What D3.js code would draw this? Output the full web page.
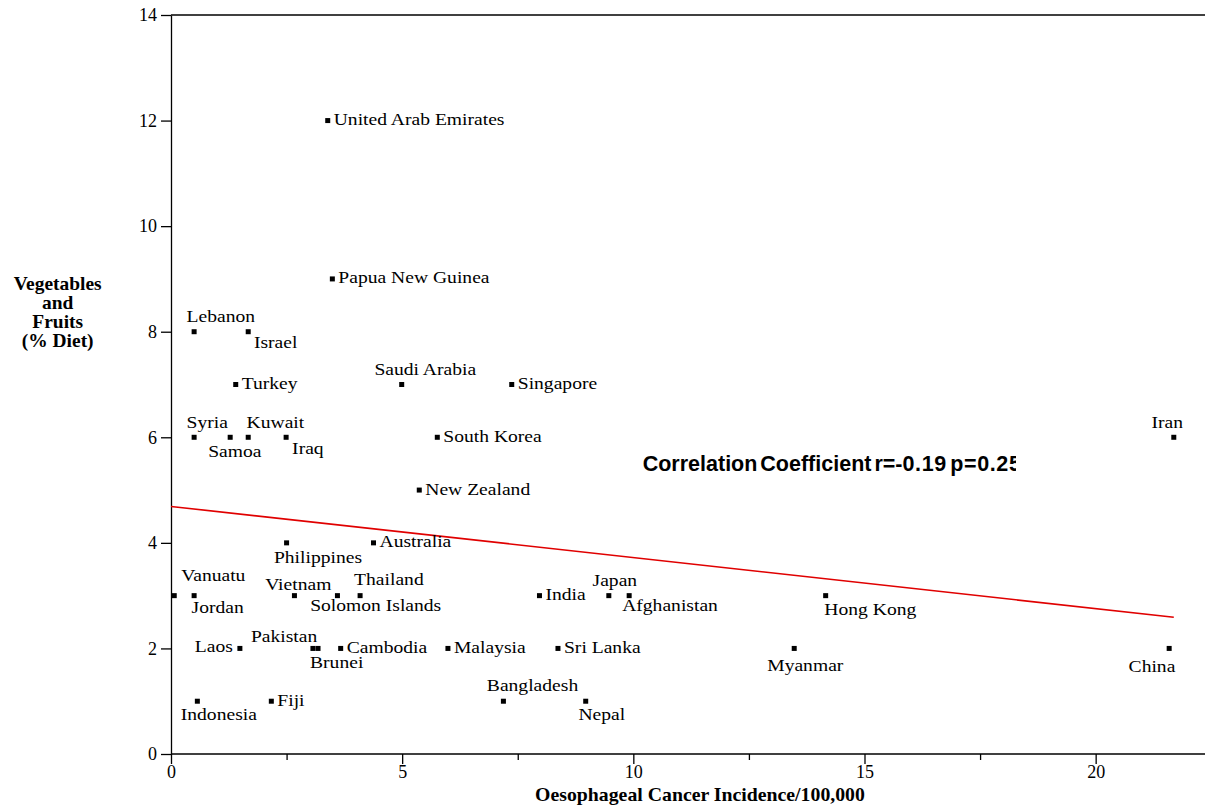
<!DOCTYPE html>
<html>
<head>
<meta charset="utf-8">
<script src="https://cdn.jsdelivr.net/npm/d3@7"></script>
<style>
  html, body { margin: 0; padding: 0; background: #fff; }
  svg { display: block; }
</style>
</head>
<body>
<svg id="chart" width="1205" height="805"></svg>
<script>
// ---- data ----
const countries = ["United Arab Emirates","Papua New Guinea","Lebanon","Israel","Turkey","Saudi Arabia","Singapore",
  "Syria","Samoa","Kuwait","Iraq","South Korea","Iran","New Zealand","Australia","Philippines",
  "Vanuatu","Jordan","Vietnam","Solomon Islands","Thailand","India","Japan","Afghanistan","Hong Kong",
  "Laos","Pakistan","Brunei","Cambodia","Malaysia","Sri Lanka","Myanmar","China",
  "Indonesia","Fiji","Bangladesh","Nepal"];
const incidence = [3.39,3.49,0.5,1.67,1.4,4.99,7.37,
  0.5,1.28,1.67,2.49,5.76,21.69,5.37,4.38,2.5,
  0.07,0.5,2.67,3.6,4.09,7.97,9.47,9.91,14.16,
  1.49,3.07,3.18,3.67,5.99,8.37,13.48,21.59,
  0.57,2.17,7.19,8.97];
const vegFruit = [12,9,8,8,7,7,7,
  6,6,6,6,6,6,5,4,4,
  3,3,3,3,3,3,3,3,3,
  2,2,2,2,2,2,2,2,
  1,1,1,1];
const regX = [0, 21.69];
const regY = [4.69, 2.59];
const xTicks = [0,5,10,15,20];
const xMinorTicks = [2.5,7.5,12.5,17.5];
const yTicks = [0,2,4,6,8,10,12,14];
const xTitle = "Oesophageal Cancer Incidence/100,000";
const yTitle = ["Vegetables","and","Fruits","(% Diet)"];
const annotationParts = ["Correlation Coefficient r=-", "0.19 p=0.25"];

// ---- label layout (anchor, dx, dy relative to marker) ----
const R = ["start", 6, 4.5];
const labelLayout = {
  "United Arab Emirates": R, "Papua New Guinea": R,
  "Lebanon": ["start",-7.6,-10], "Israel": ["start",5.7,16], "Turkey": R,
  "Saudi Arabia": ["start",-27.3,-9.5], "Singapore": R,
  "Syria": ["start",-7.6,-9], "Samoa": ["start",-22,20], "Kuwait": ["start",-1.6,-9],
  "Iraq": ["start",6,17], "South Korea": R, "Iran": ["start",-22.3,-9],
  "New Zealand": R, "Australia": R, "Philippines": ["start",-12.7,20],
  "Vanuatu": ["start",7,-14.6], "Jordan": ["start",-2.6,17], "Vietnam": ["start",-29.3,-5.6],
  "Solomon Islands": ["start",-27.3,15.4], "Thailand": ["start",-6,-10.6], "India": R,
  "Japan": ["start",-16.3,-10], "Afghanistan": ["start",-7,15.4], "Hong Kong": ["start",-1.3,19.4],
  "Laos": ["end",-7,4], "Pakistan": ["start",-62,-6], "Brunei": ["start",-8,20],
  "Cambodia": R, "Malaysia": R, "Sri Lanka": R, "Myanmar": ["start",-27,23],
  "China": ["start",-40.6,24], "Indonesia": ["start",-16.6,18.7], "Fiji": R,
  "Bangladesh": ["start",-16.6,-10.6], "Nepal": ["start",-7.3,19]
};

const svg = d3.select("#chart");
const serif = "'Liberation Serif','Times New Roman',Times,serif";

const x = d3.scaleLinear().domain([0, 22.365]).range([171, 1205]);
const y = d3.scaleLinear().domain([0, 14]).range([754, 15]);

// top frame line
svg.append("line").attr("x1", 171).attr("x2", 1205).attr("y1", 15).attr("y2", 15)
  .attr("stroke", "#000").attr("stroke-width", 1.3);

// x axis
const xAxis = svg.append("g").attr("transform", "translate(0,754)")
  .call(d3.axisBottom(x).tickValues(xTicks).tickSize(10).tickSizeOuter(0).tickFormat(d3.format("d")));
const xMinor = svg.append("g").attr("transform", "translate(0,754)")
  .call(d3.axisBottom(x).tickValues(xMinorTicks).tickSize(6).tickSizeOuter(0).tickFormat(""));
xMinor.select(".domain").remove();

// y axis
const yAxis = svg.append("g").attr("transform", "translate(171,0)")
  .call(d3.axisLeft(y).tickValues(yTicks).tickSize(10).tickSizeOuter(0).tickFormat(d3.format("d")));

[xAxis, xMinor, yAxis].forEach(g => {
  g.select(".domain").attr("stroke", "#000").attr("stroke-width", 1.3);
  g.selectAll(".tick line").attr("stroke", "#000").attr("stroke-width", 1.3);
  g.selectAll(".tick text").attr("font-family", serif).attr("font-size", 18).attr("fill", "#000");
});
xAxis.select(".domain").attr("d", "M171,0H1205");
xAxis.selectAll(".tick text").attr("y", 0).attr("dy", 0).attr("transform", "translate(0,24)");
yAxis.selectAll(".tick text").attr("x", -14).attr("dy", "0.32em");

// regression line
svg.append("path")
  .datum(regX.map((v, i) => [v, regY[i]]))
  .attr("d", d3.line().x(d => x(d[0])).y(d => y(d[1])))
  .attr("stroke", "#e00000").attr("stroke-width", 1.6).attr("fill", "none");

// points
const pts = countries.map((c, i) => ({ name: c, xv: incidence[i], yv: vegFruit[i] }));
svg.append("g").selectAll("rect").data(pts).join("rect")
  .attr("x", d => x(d.xv) - 2.5).attr("y", d => y(d.yv) - 2.5)
  .attr("width", 5).attr("height", 5).attr("fill", "#000");

// labels
svg.append("g").selectAll("text").data(pts).join("text")
  .attr("transform", d => {
    const L = labelLayout[d.name];
    return `translate(${x(d.xv) + L[1]},${y(d.yv) + L[2]}) scale(1.12,1)`;
  })
  .attr("text-anchor", d => labelLayout[d.name][0])
  .attr("font-family", serif).attr("font-size", 17.5).attr("fill", "#000")
  .text(d => d.name);

// y title
const yt = svg.append("g").attr("transform", "translate(57.7,0)");
yt.selectAll("text").data(yTitle).join("text")
  .attr("transform", (d, i) => `translate(0,${290 + i * 19}) scale(1.08,1)`)
  .attr("text-anchor", "middle")
  .attr("font-family", serif).attr("font-weight", "bold").attr("font-size", 18)
  .text(d => d);

// x title
svg.append("text")
  .attr("transform", "translate(700,801) scale(1.07,1)")
  .attr("text-anchor", "middle")
  .attr("font-family", serif).attr("font-weight", "bold").attr("font-size", 18.5)
  .text(xTitle);

// annotation (clipped at the right like the original)
svg.append("clipPath").attr("id", "annClip")
  .append("rect").attr("x", 600).attr("y", 440).attr("width", 416).attr("height", 50);
const ann = svg.append("text")
  .attr("clip-path", "url(#annClip)")
  .attr("x", 642.7).attr("y", 471)
  .attr("font-family", "'Liberation Sans',Arial,sans-serif").attr("font-weight", "bold")
  .attr("font-size", 21.5).attr("word-spacing", -3);
ann.append("tspan").text(annotationParts[0]);
ann.append("tspan").attr("letter-spacing", 0.6).text(annotationParts[1]);
</script>
</body>
</html>
